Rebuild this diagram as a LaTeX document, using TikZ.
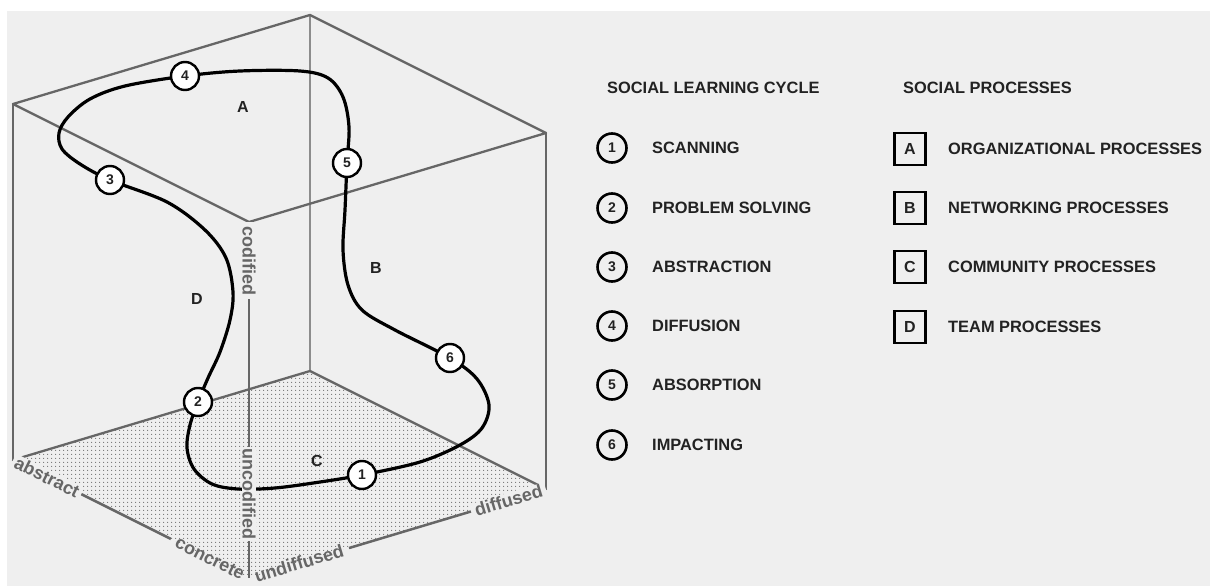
\documentclass[tikz,border=0pt]{standalone}
\usepackage{fontspec}
\setmainfont{Liberation Sans}
\usetikzlibrary{patterns.meta,calc}
\definecolor{bg}{HTML}{EFEFEF}
\definecolor{edgegray}{HTML}{666666}
\definecolor{ink}{HTML}{222222}
\begin{document}
\begin{tikzpicture}[x=1pt,y=-1pt,
  cubeedge/.style={draw=edgegray, line width=2.3pt, line join=round, line cap=round},
  backedge/.style={draw=edgegray!75, line width=1.1pt},
  axisline/.style={draw=edgegray, line width=2.5pt},
  axislabel/.style={font=\fontsize{18}{18}\selectfont\bfseries, text=edgegray, fill=bg, inner xsep=1.5pt, inner ysep=0.5pt},
  cyclepath/.style={draw=black, line width=3.2pt},
  stage/.style={circle, draw=black, line width=2.4pt, fill=white, minimum size=28pt, inner sep=0pt, font=\fontsize{14}{14}\selectfont\bfseries, text=ink},
  legcircle/.style={circle, draw=black, line width=2.6pt, minimum size=29pt, inner sep=0pt, font=\fontsize{14}{14}\selectfont\bfseries, text=ink},
  legsquare/.style={rectangle, draw=black, line width=2.6pt, minimum width=31pt, minimum height=32pt, inner sep=0pt, font=\fontsize{16}{16}\selectfont\bfseries, text=ink},
  legtext/.style={anchor=west, inner sep=0pt, text height=11.7pt, text depth=0pt, font=\fontsize{16.4}{18}\selectfont\bfseries, text=ink},
  regionlabel/.style={inner sep=0pt, font=\fontsize{16}{16}\selectfont\bfseries, text=ink}
]
% canvas
\fill[white] (0,0) rectangle (1210,586);
\fill[bg] (7,11) rectangle (1210,586);
\useasboundingbox (0,0) rectangle (1210,586);

% cube corners
\coordinate (TL) at (13,104);
\coordinate (TB) at (310,15);
\coordinate (TR) at (546,133);
\coordinate (TF) at (249,222);
\coordinate (BL) at (13,460);
\coordinate (BB) at (310,371);
\coordinate (BR) at (546,489);
\coordinate (BF) at (249,578);

% dotted floor
\path[pattern={Dots[distance=4pt, radius=0.75pt]}, pattern color=black!55] (BL) -- (BB) -- (BR) -- (BF) -- cycle;

% cube edges
\draw[backedge] (TB) -- (BB);
\draw[cubeedge] (TL) -- (TB) -- (TR) -- (TF) -- cycle;
\draw[cubeedge] (TL) -- (BL);
\draw[cubeedge] (TR) -- (BR);
\draw[cubeedge] (BL) -- (BB) -- (BR);

% social learning cycle curve
\draw[cyclepath] plot[smooth cycle, tension=0.55] coordinates {
 (362,475) (320,482) (275,488) (238,489) (212,484) (194,469) (187,448) (190,425)
 (198,402) (208,378) (220,352) (230,320) (233,292) (226,258) (205,230) (167,202)
 (110,180) (80,164) (62,149) (59,133) (68,117) (90,99) (125,86)
 (185,76) (240,71) (300,71) (328,78) (343,97) (349,127)
 (347,163) (345,210) (343,250) (348,285) (362,310) (395,330)
 (450,358) (477,379) (489,405) (482,428) (460,445) (420,462)
};

% axes with labels
\node[axislabel, rotate=-90, anchor=west, inner xsep=4pt] (codified) at (TF) {codified};
\node[axislabel, rotate=-90] (uncodified) at (249,494) {uncodified};
\node[axislabel, rotate=-26.57, anchor=west, inner xsep=3pt] (abstract) at (BL) {abstract};
\node[axislabel, rotate=-26.57, anchor=east, inner xsep=6pt, fill=none] (concrete) at (BF) {concrete};
\node[axislabel, rotate=16.68, anchor=west, inner xsep=6pt, fill=none] (undiffused) at (BF) {undiffused};
\node[axislabel, rotate=16.68, anchor=east, inner xsep=4pt] (diffused) at (BR) {diffused};
\draw[axisline] (codified.east) -- (uncodified.west);
\draw[axisline] (uncodified.east) -- (BF);
\draw[axisline] (abstract.east) -- (concrete.west);
\draw[axisline] (undiffused.east) -- (diffused.west);

% region labels
\node[regionlabel] (lA) at (243,107) {A};
\node[regionlabel] (lB) at (376,268) {B};
\node[regionlabel] (lC) at (317,461) {C};
\node[regionlabel] (lD) at (197,299) {D};

% stage circles
\node[stage] (s1) at (362,475) {1};
\node[stage] (s2) at (198,402) {2};
\node[stage] (s3) at (110,180) {3};
\node[stage] (s4) at (185,76) {4};
\node[stage] (s5) at (347,163) {5};
\node[stage] (s6) at (450,358) {6};

% legend: social learning cycle
\node[legtext] (h1) at (607,88) {SOCIAL LEARNING CYCLE};
\node[legcircle] (k1) at (612,148) {1};
\node[legcircle] (k2) at (612,208) {2};
\node[legcircle] (k3) at (612,267) {3};
\node[legcircle] (k4) at (612,326) {4};
\node[legcircle] (k5) at (612,385) {5};
\node[legcircle] (k6) at (612,445) {6};
\node[legtext] (t1) at (652,148) {SCANNING};
\node[legtext] (t2) at (652,208) {PROBLEM SOLVING};
\node[legtext] (t3) at (652,267) {ABSTRACTION};
\node[legtext] (t4) at (652,326) {DIFFUSION};
\node[legtext] (t5) at (652,385) {ABSORPTION};
\node[legtext] (t6) at (652,445) {IMPACTING};

% legend: social processes
\node[legtext] (h2) at (903,88) {SOCIAL PROCESSES};
\node[legsquare] (qA) at (910,149) {A};
\node[legsquare] (qB) at (910,208) {B};
\node[legsquare] (qC) at (910,267) {C};
\node[legsquare] (qD) at (910,327) {D};
\node[legtext] (uA) at (948,149) {ORGANIZATIONAL PROCESSES};
\node[legtext] (uB) at (948,208) {NETWORKING PROCESSES};
\node[legtext] (uC) at (948,267) {COMMUNITY PROCESSES};
\node[legtext] (uD) at (948,327) {TEAM PROCESSES};
\end{tikzpicture}
\end{document}
